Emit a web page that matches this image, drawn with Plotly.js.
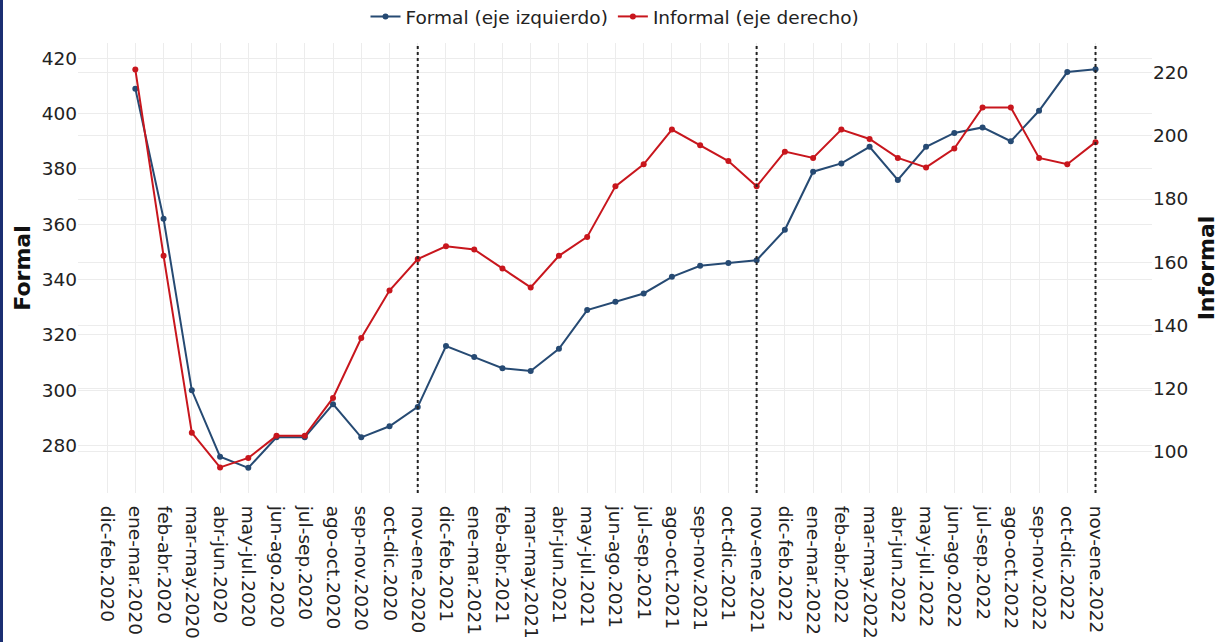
<!DOCTYPE html>
<html>
<head>
<meta charset="utf-8">
<script src="https://cdn.plot.ly/plotly-3.0.1.min.js"></script>
<style>
  html, body { margin: 0; padding: 0; background: #ffffff; }
  #chart { width: 1219px; height: 642px; }
  #edge { position: absolute; left: 0; top: 0; width: 3px; height: 642px; background: #1b2f72; }
</style>
</head>
<body>
<div id="chart"></div>
<div id="edge"></div>
<script>
const categories = [
  "dic-feb.2020","ene-mar.2020","feb-abr.2020","mar-may.2020","abr-jun.2020","may-jul.2020",
  "jun-ago.2020","jul-sep.2020","ago-oct.2020","sep-nov.2020","oct-dic.2020","nov-ene.2020",
  "dic-feb.2021","ene-mar.2021","feb-abr.2021","mar-may.2021","abr-jun.2021","may-jul.2021",
  "jun-ago.2021","jul-sep.2021","ago-oct.2021","sep-nov.2021","oct-dic.2021","nov-ene.2021",
  "dic-feb.2022","ene-mar.2022","feb-abr.2022","mar-may.2022","abr-jun.2022","may-jul.2022",
  "jun-ago.2022","jul-sep.2022","ago-oct.2022","sep-nov.2022","oct-dic.2022","nov-ene.2022"
];
const formal = [null, 409, 362, 300, 276, 272, 283, 283, 295, 283, 287, 294,
  316, 312, 308, 307, 315, 329, 332, 335, 341, 345, 346, 347,
  358, 379, 382, 388, 376, 388, 393, 395, 390, 401, 415, 416];
const informal = [null, 221, 162, 106, 95, 98, 105, 105, 117, 136, 151, 161,
  165, 164, 158, 152, 162, 168, 184, 191, 202, 197, 192, 184,
  195, 193, 202, 199, 193, 190, 196, 209, 209, 193, 191, 198];
const leftTicks = [280, 300, 320, 340, 360, 380, 400, 420];
const rightTicks = [100, 120, 140, 160, 180, 200, 220];
const markerCategories = ["nov-ene.2020", "nov-ene.2021", "nov-ene.2022"];

const FONT = "DejaVu Sans, Verdana, sans-serif";
const BLUE = "#264a73";
const RED = "#c8161d";

const traces = [
  {
    x: categories, y: formal, name: "Formal (eje izquierdo)",
    type: "scatter", mode: "lines+markers", yaxis: "y",
    line: { color: BLUE, width: 2 }, marker: { color: BLUE, size: 6 },
    connectgaps: false
  },
  {
    x: categories, y: informal, name: "Informal (eje derecho)",
    type: "scatter", mode: "lines+markers", yaxis: "y2",
    line: { color: RED, width: 2 }, marker: { color: RED, size: 6 },
    connectgaps: false
  }
];

const shapes = markerCategories.map(c => ({
  type: "line", xref: "x", yref: "paper", x0: c, x1: c, y0: 0, y1: 1,
  line: { color: "#222222", width: 2, dash: "dot" }
}));

const layout = {
  width: 1219, height: 642,
  margin: { l: 78, r: 67, t: 43, b: 149, autoexpand: false },
  paper_bgcolor: "#ffffff", plot_bgcolor: "#ffffff",
  font: { family: FONT, size: 18, color: "#222222" },
  showlegend: true,
  legend: {
    orientation: "h", x: 0.5, xanchor: "center", y: 1.058, yanchor: "middle",
    font: { family: FONT, size: 18.5, color: "#222222" }
  },
  xaxis: {
    type: "category", categoryorder: "array", categoryarray: categories,
    range: [-1.03, 37.0], tickangle: 90,
    tickfont: { family: FONT, size: 18.5, color: "#222222" },
    showgrid: true, gridcolor: "#ececec", gridwidth: 1,
    zeroline: false, showline: false,
    ticks: "outside", ticklen: 8, tickcolor: "rgba(0,0,0,0)", automargin: false
  },
  yaxis: {
    title: { text: "<b>Formal</b>", font: { family: FONT, size: 22, color: "#111111" }, standoff: 4 },
    range: [262.9, 425.5], tickvals: leftTicks,
    tickfont: { family: FONT, size: 18.5, color: "#222222" },
    showgrid: true, gridcolor: "#ececec", zeroline: false, showline: false,
    ticks: "", automargin: false
  },
  yaxis2: {
    title: { text: "<b>Informal</b>", font: { family: FONT, size: 22, color: "#111111" }, standoff: 12 },
    overlaying: "y", side: "right",
    range: [86.9, 229.4], tickvals: rightTicks,
    tickfont: { family: FONT, size: 18.5, color: "#222222" },
    showgrid: true, gridcolor: "#ececec", zeroline: false, showline: false,
    ticks: "", automargin: false
  },
  shapes: shapes
};

Plotly.newPlot("chart", traces, layout, { displayModeBar: false, responsive: false });
</script>
</body>
</html>
